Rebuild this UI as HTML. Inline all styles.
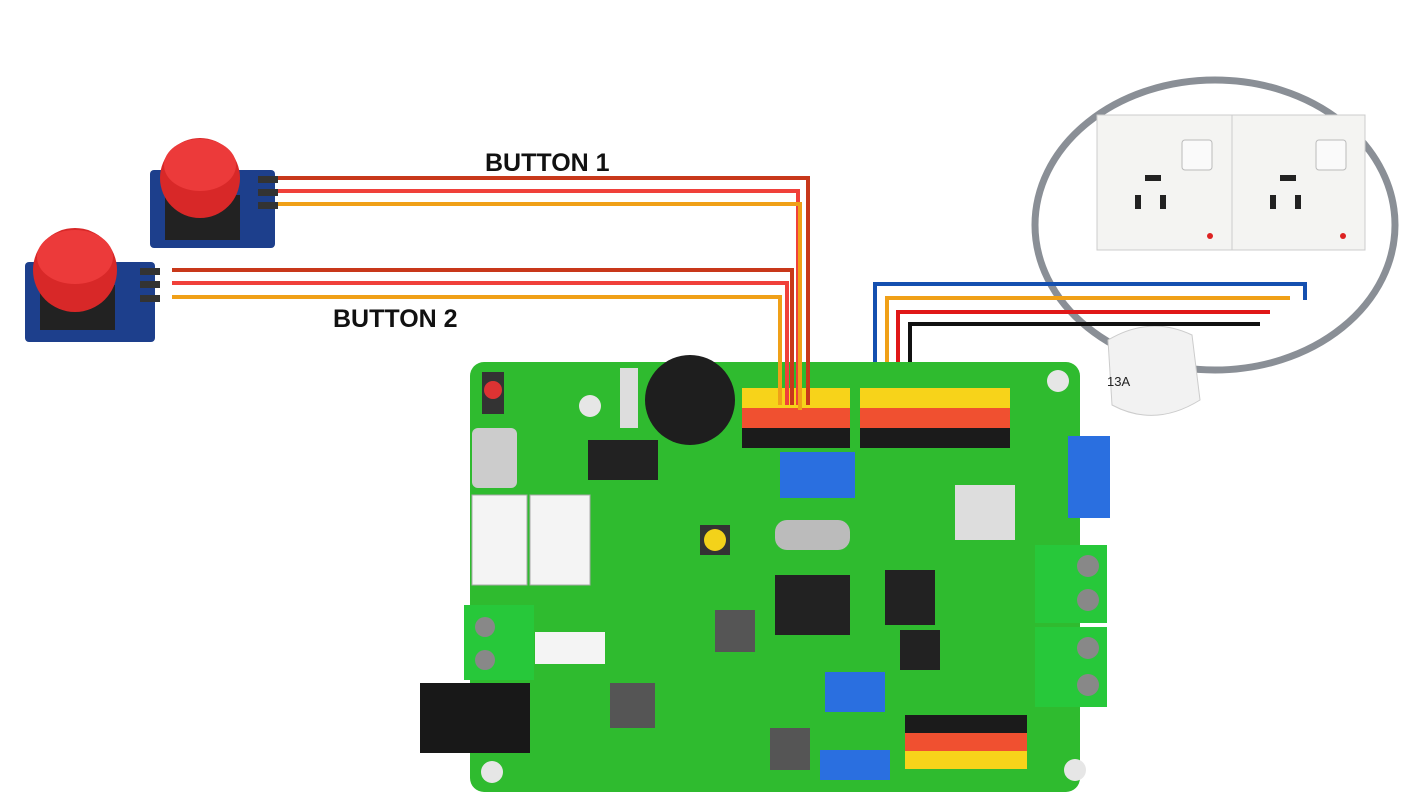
<!DOCTYPE html>
<html><head><meta charset="utf-8"><style>
html,body{margin:0;padding:0;background:#fff;width:1410px;height:809px;overflow:hidden}
svg text{font-family:"Liberation Sans",sans-serif}
</style></head><body>
<svg width="1410" height="809" viewBox="0 0 1410 809" xmlns="http://www.w3.org/2000/svg">
<rect width="1410" height="809" fill="#fff"/>
<!-- socket cable loop -->
<ellipse cx="1215" cy="225" rx="180" ry="145" fill="none" stroke="#8a8f96" stroke-width="7"/>
<!-- socket -->
<rect x="1097" y="115" width="135" height="135" fill="#f4f4f2" stroke="#ccc"/>
<rect x="1232" y="115" width="133" height="135" fill="#f4f4f2" stroke="#ccc"/>
<rect x="1182" y="140" width="30" height="30" rx="3" fill="#fafafa" stroke="#bbb"/>
<rect x="1316" y="140" width="30" height="30" rx="3" fill="#fafafa" stroke="#bbb"/>
<rect x="1135" y="195" width="6" height="14" fill="#222"/><rect x="1160" y="195" width="6" height="14" fill="#222"/><rect x="1145" y="175" width="16" height="6" fill="#222"/>
<rect x="1270" y="195" width="6" height="14" fill="#222"/><rect x="1295" y="195" width="6" height="14" fill="#222"/><rect x="1280" y="175" width="16" height="6" fill="#222"/>
<circle cx="1210" cy="236" r="3" fill="#d22"/><circle cx="1343" cy="236" r="3" fill="#d22"/>
<!-- plug -->
<path d="M1108 340 Q1150 315 1192 335 L1200 400 Q1155 428 1112 405 Z" fill="#f2f2f2" stroke="#ccc"/>
<text x="1107" y="386" font-size="13" fill="#222">13A</text>
<!-- socket wires -->
<g fill="none" stroke-width="4">
<path d="M875 400 V284 H1305 V300" stroke="#1450b0"/>
<path d="M887 400 V298 H1290" stroke="#f0a018"/>
<path d="M898 400 V312 H1270" stroke="#e01818"/>
<path d="M910 400 V324 H1260" stroke="#111"/>
</g>
<!-- board -->
<rect x="470" y="362" width="610" height="430" rx="14" fill="#2fbb2f"/>
<g fill="#e6e6e6"><circle cx="1058" cy="381" r="11"/><circle cx="1075" cy="770" r="11"/><circle cx="492" cy="772" r="11"/><circle cx="590" cy="406" r="11"/></g>
<!-- headers -->
<rect x="742" y="388" width="108" height="20" fill="#f7d31a"/><rect x="742" y="408" width="108" height="20" fill="#f05030"/><rect x="742" y="428" width="108" height="20" fill="#1b1b1b"/>
<rect x="860" y="388" width="150" height="20" fill="#f7d31a"/><rect x="860" y="408" width="150" height="20" fill="#f05030"/><rect x="860" y="428" width="150" height="20" fill="#1b1b1b"/>
<rect x="780" y="452" width="75" height="46" fill="#2a6fe0"/>
<rect x="1068" y="436" width="42" height="82" fill="#2a6fe0"/>
<rect x="905" y="715" width="122" height="18" fill="#1b1b1b"/><rect x="905" y="733" width="122" height="18" fill="#f05030"/><rect x="905" y="751" width="122" height="18" fill="#f7d31a"/>
<rect x="825" y="672" width="60" height="40" fill="#2a6fe0"/><rect x="820" y="750" width="70" height="30" fill="#2a6fe0"/>
<!-- components -->
<rect x="482" y="372" width="22" height="42" fill="#333"/><circle cx="493" cy="390" r="9" fill="#d33"/>
<circle cx="690" cy="400" r="45" fill="#1e1e1e"/><rect x="620" y="368" width="18" height="60" fill="#ddd"/>
<rect x="472" y="428" width="45" height="60" rx="6" fill="#ccc"/>
<rect x="472" y="495" width="55" height="90" fill="#f4f4f4" stroke="#aaa"/><rect x="530" y="495" width="60" height="90" fill="#f4f4f4" stroke="#aaa"/>
<rect x="464" y="605" width="70" height="75" fill="#27c83a"/><rect x="535" y="632" width="70" height="32" fill="#f4f4f4"/>
<rect x="420" y="683" width="110" height="70" fill="#181818"/>
<rect x="588" y="440" width="70" height="40" fill="#222"/>
<rect x="700" y="525" width="30" height="30" fill="#333"/><circle cx="715" cy="540" r="11" fill="#f3d21a"/>
<rect x="715" y="610" width="40" height="42" fill="#555"/><rect x="610" y="683" width="45" height="45" fill="#555"/><rect x="770" y="728" width="40" height="42" fill="#555"/>
<rect x="775" y="575" width="75" height="60" fill="#222"/><rect x="775" y="520" width="75" height="30" fill="#bbb" rx="12"/>
<rect x="885" y="570" width="50" height="55" fill="#222"/><rect x="900" y="630" width="40" height="40" fill="#222"/>
<rect x="955" y="485" width="60" height="55" fill="#ddd"/>
<rect x="1035" y="545" width="72" height="78" fill="#27c83a"/><rect x="1035" y="627" width="72" height="80" fill="#27c83a"/>
<g fill="#888"><circle cx="1088" cy="566" r="11"/><circle cx="1088" cy="600" r="11"/><circle cx="1088" cy="648" r="11"/><circle cx="1088" cy="685" r="11"/><circle cx="485" cy="627" r="10"/><circle cx="485" cy="660" r="10"/></g>
<!-- button1 wires -->
<g fill="none" stroke-width="4">
<path d="M278 178 H808 V405" stroke="#c8381a"/>
<path d="M278 191 H798 V405" stroke="#f0403a"/>
<path d="M278 204 H800 V410" stroke="#f0a018"/>
<path d="M172 270 H792 V405" stroke="#c8381a"/>
<path d="M172 283 H787 V405" stroke="#f0403a"/>
<path d="M172 297 H780 V405" stroke="#f0a018"/>
</g>
<!-- button modules -->
<rect x="150" y="170" width="125" height="78" rx="4" fill="#1d3f8c"/>
<rect x="165" y="195" width="75" height="45" fill="#222"/>
<circle cx="200" cy="178" r="40" fill="#d82828"/><ellipse cx="200" cy="165" rx="36" ry="26" fill="#ec3a3a"/>
<g fill="#333"><rect x="258" y="176" width="20" height="7"/><rect x="258" y="189" width="20" height="7"/><rect x="258" y="202" width="20" height="7"/></g>
<rect x="25" y="262" width="130" height="80" rx="4" fill="#1d3f8c"/>
<rect x="40" y="285" width="75" height="45" fill="#222"/>
<circle cx="75" cy="270" r="42" fill="#d82828"/><ellipse cx="75" cy="257" rx="38" ry="27" fill="#ec3a3a"/>
<g fill="#333"><rect x="140" y="268" width="20" height="7"/><rect x="140" y="281" width="20" height="7"/><rect x="140" y="295" width="20" height="7"/></g>
<text x="485" y="171" font-size="25" font-weight="bold" fill="#111">BUTTON 1</text>
<text x="333" y="327" font-size="25" font-weight="bold" fill="#111">BUTTON 2</text>
</svg>
</body></html>
